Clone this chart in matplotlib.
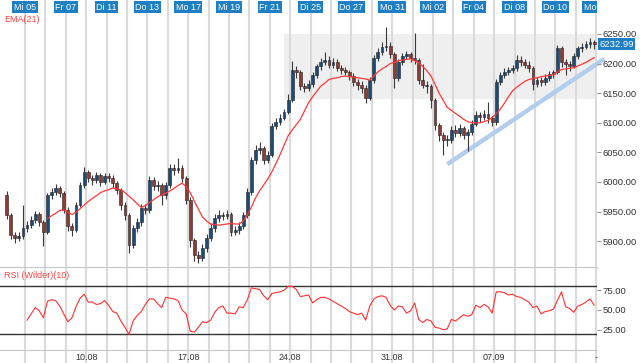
import numpy as np
import matplotlib
matplotlib.use("Agg")
import matplotlib.pyplot as plt
from matplotlib.patches import Rectangle

plt.rcParams['font.family'] = ['Liberation Sans', 'DejaVu Sans']

# 5 bars per trading day, first bar on Tue 04.08, last on Fri 11.09
per_day = 5
first_open = 5978

close = [5944, 5911, 5906, 5909, 5922, 5927, 5936, 5946, 5932, 5916,
         5978, 5983, 5990, 5981, 5953, 5926, 5919, 5961, 5995, 6017,
         6007, 6003, 6012, 6000, 6010, 6007, 5998, 5987, 5961, 5944,
         5894, 5922, 5932, 5956, 5953, 6003, 5993, 5995, 5978, 5995,
         6024, 6020, 6024, 6007, 5970, 5902, 5877, 5872, 5889, 5906,
         5922, 5939, 5944, 5943, 5946, 5916, 5919, 5926, 5944, 5983,
         6037, 6054, 6057, 6037, 6046, 6095, 6101, 6108, 6118, 6139,
         6189, 6186, 6162, 6159, 6166, 6181, 6196, 6203, 6206, 6198,
         6203, 6193, 6189, 6186, 6179, 6169, 6164, 6159, 6142, 6172,
         6209, 6220, 6228, 6230, 6216, 6176, 6203, 6213, 6216, 6209,
         6206, 6172, 6164, 6162, 6139, 6096, 6079, 6071, 6071, 6088,
         6083, 6091, 6079, 6084, 6098, 6113, 6110, 6115, 6108, 6101,
         6169, 6181, 6186, 6189, 6193, 6206, 6203, 6198, 6193, 6166,
         6172, 6169, 6176, 6182, 6186, 6226, 6203, 6199, 6196, 6213,
         6226, 6228, 6233, 6236, 6233]

high = [5984, 5948, 5915, 5916, 5961, 5934, 5942, 5951, 5950, 5936,
        5982, 5990, 5996, 5994, 5985, 5957, 5930, 5966, 6000, 6025,
        6020, 6012, 6017, 6015, 6016, 6015, 6012, 6002, 5990, 5966,
        5948, 5928, 5940, 5962, 5962, 6010, 6008, 6002, 5999, 6000,
        6030, 6030, 6040, 6028, 6010, 5974, 5906, 5884, 5895, 5912,
        5930, 5946, 5952, 5950, 5953, 5950, 5926, 5932, 5950, 5990,
        6042, 6062, 6068, 6060, 6052, 6100, 6108, 6114, 6124, 6148,
        6205, 6196, 6190, 6168, 6172, 6186, 6200, 6210, 6220, 6212,
        6210, 6208, 6198, 6194, 6190, 6184, 6174, 6170, 6164, 6178,
        6214, 6226, 6236, 6262, 6236, 6220, 6208, 6218, 6222, 6220,
        6252, 6210, 6200, 6170, 6166, 6142, 6100, 6084, 6080, 6094,
        6096, 6098, 6095, 6090, 6104, 6120, 6118, 6122, 6135, 6112,
        6174, 6186, 6192, 6194, 6198, 6215, 6212, 6208, 6204, 6196,
        6178, 6178, 6182, 6188, 6190, 6232, 6230, 6208, 6204, 6218,
        6230, 6234, 6238, 6244, 6240]

low = [5938, 5903, 5897, 5900, 5904, 5915, 5922, 5930, 5926, 5892,
       5912, 5972, 5978, 5975, 5948, 5918, 5909, 5915, 5957, 5990,
       6000, 5995, 5998, 5993, 5996, 6000, 5990, 5980, 5952, 5935,
       5880, 5888, 5915, 5926, 5946, 5948, 5986, 5984, 5961, 5972,
       5990, 6012, 6015, 6000, 5962, 5890, 5866, 5864, 5866, 5882,
       5900, 5916, 5932, 5936, 5938, 5908, 5910, 5912, 5920, 5940,
       5978, 6030, 6048, 6030, 6032, 6042, 6090, 6096, 6104, 6114,
       6135, 6176, 6155, 6152, 6154, 6160, 6176, 6190, 6198, 6192,
       6192, 6188, 6182, 6180, 6172, 6162, 6156, 6150, 6133, 6138,
       6168, 6204, 6214, 6222, 6210, 6159, 6170, 6198, 6208, 6202,
       6200, 6165, 6158, 6150, 6125, 6088, 6070, 6045, 6060, 6066,
       6076, 6078, 6072, 6052, 6080, 6094, 6102, 6104, 6100, 6094,
       6097, 6164, 6176, 6180, 6184, 6188, 6196, 6192, 6186, 6155,
       6160, 6162, 6164, 6170, 6176, 6182, 6194, 6180, 6188, 6192,
       6208, 6220, 6224, 6226, 6224]

# EMA(21) as drawn, starting at bar 10
ema_start = 10
ema21 = [5938, 5943, 5947, 5952, 5953, 5949, 5945, 5949, 5955, 5961,
         5967, 5972, 5977, 5982, 5985, 5987, 5990, 5988, 5987, 5982,
         5976, 5970, 5963, 5957, 5960, 5965, 5970, 5975, 5978, 5981,
         5985, 5989, 5994, 5998, 5992, 5982, 5968, 5954, 5941, 5934,
         5929, 5928, 5927, 5928, 5929, 5930, 5929, 5929, 5934, 5944,
         5958, 5973, 5985, 5995, 6005, 6017, 6031, 6046, 6062, 6078,
         6088, 6097, 6106, 6120, 6134, 6144, 6153, 6162, 6167, 6173,
         6175, 6176, 6178, 6179, 6178, 6177, 6176, 6175, 6174, 6172,
         6179, 6186, 6191, 6195, 6200, 6202, 6205, 6206, 6207, 6208,
         6205, 6201, 6195, 6188, 6179, 6165, 6150, 6138, 6126, 6121,
         6116, 6111, 6106, 6102, 6100, 6100, 6100, 6102, 6104, 6109,
         6115, 6123, 6133, 6144, 6154, 6160, 6165, 6170, 6173, 6175,
         6176, 6178, 6179, 6180, 6181, 6186, 6190, 6191, 6192, 6193,
         6196, 6199, 6202, 6206, 6210]

# RSI (Wilder)(10) as drawn, starting at bar 5
rsi_start = 5
rsi10 = [37, 45, 53, 49, 40, 61, 63, 62, 55, 45,
         35, 40, 54, 65, 70, 60, 60, 57, 58, 62,
         56, 48, 46, 36, 28, 19, 36, 43, 48, 57,
         64, 64, 58, 53, 66, 65, 64, 62, 50, 45,
         23, 22, 28, 35, 34, 37, 47, 53, 55, 46,
         46, 45, 54, 53, 63, 78, 77, 76, 68, 63,
         71, 72, 73, 75, 80, 80, 76, 67, 68, 69,
         59, 63, 66, 66, 64, 61, 58, 55, 52, 48,
         46, 44, 46, 37, 55, 64, 67, 68, 66, 56,
         50, 55, 54, 46, 49, 59, 38, 34, 38, 36,
         28, 27, 25, 26, 38, 36, 40, 44, 42, 44,
         56, 53, 57, 54, 46, 73, 73, 72, 69, 70,
         67, 66, 63, 60, 53, 55, 45, 48, 49, 51,
         62, 73, 54, 52, 47, 55, 57, 60, 64, 56]

top_days = [0, 2, 4, 6, 8, 10, 12, 14, 16, 18, 20, 22, 24, 26, 28]
top_labels = ["Mi 05", "Fr 07", "Di 11", "Do 13", "Mo 17", "Mi 19", "Fr 21",
              "Di 25", "Do 27", "Mo 31", "Mi 02", "Fr 04", "Di 08", "Do 10", "Mo 14"]
week_days = [3, 8, 13, 18, 23, 28]
week_labels = ["10.08", "17.08", "24.08", "31.08", "07.09", "-"]
price_ticks = [5900, 5950, 6000, 6050, 6100, 6150, 6200, 6250]
rsi_ticks = [25, 50, 75]
rsi_bands = [20, 80]
zone_x0, zone_lo, zone_hi = 12.7, 6140, 6250
trend_x = [20.7, 28.4]
trend_y = [6030, 6208]
last_price = 6232.99

blue = '#1f7fc4'
up_col, down_col = '#1b4b77', '#8e3b33'

n = len(close)
t = -1 + (np.arange(n) + 0.5) / per_day
opens = np.array([first_open] + close[:-1])
close_a = np.array(close)

fig = plt.figure(figsize=(6.4, 3.63), dpi=100)
ax = fig.add_axes([0, 1 - 267 / 363, 597 / 640, 267 / 363])
rx = fig.add_axes([0, 1 - 350 / 363, 597 / 640, 81 / 363])

for a in (ax, rx):
    a.set_xlim(-1.225, 28.04)
    for s in ('top', 'left', 'right'):
        a.spines[s].set_visible(False)
    a.spines['bottom'].set_color('#c8c8c8')
    a.yaxis.tick_right()
    a.tick_params(axis='y', length=3, width=0.8, color='#999999',
                  labelsize=6.8, labelcolor='#333333', pad=1)

ax.set_ylim(5856.4, 6307.4)
rx.set_ylim(-0.8, 102)

# day grid
for d in range(0, 29):
    ax.axvline(d, color='#dadada', lw=1.5, zorder=0.5)
    rx.axvline(d, ymin=-0.17, ymax=1, color='#dadada', lw=1.5, zorder=0.5, clip_on=False)

ax.add_patch(Rectangle((zone_x0, zone_lo), 30, zone_hi - zone_lo,
                       fc='#efefef', ec='none', zorder=0))

ax.plot(trend_x, trend_y, color='#b3cdee', lw=3.2, solid_capstyle='butt',
        clip_on=False, zorder=1.5)

# candles
lo_b = np.minimum(opens, close_a)
h_b = np.maximum(np.abs(close_a - opens), 1.5)
cols = np.where(close_a >= opens, up_col, down_col)
ax.vlines(t, low, high, color='#3a3a3a', lw=0.8, zorder=2)
ax.bar(t, h_b, bottom=lo_b, width=0.14, color=cols, edgecolor='#222222',
       linewidth=0.4, zorder=2.5)

ax.plot(t[ema_start:], ema21, color='#ff3838', lw=0.9, zorder=3)

ax.set_yticks(price_ticks)
ax.set_yticklabels([f"{p:.2f}" for p in price_ticks])
ax.set_xticks([])

for d, lab in zip(top_days, top_labels):
    ax.text(d, 0.973, lab, transform=ax.get_xaxis_transform(), ha='center',
            va='center', color='white', fontsize=6.5, zorder=5, clip_on=True,
            bbox=dict(boxstyle='square,pad=0.18', fc=blue, ec='none'))

ax.text(1.004, last_price, f"{last_price:.2f}", transform=ax.get_yaxis_transform(),
        ha='left', va='center', color='white', fontsize=6.8, clip_on=False,
        bbox=dict(boxstyle='square,pad=0.15', fc=blue, ec='none'))

fig.text(4 / 640, 1 - 20 / 363, "EMA(21)", color='#ff4444', fontsize=6.5, va='center')

# RSI panel
rx.plot(t[rsi_start:], rsi10, color='#ff3030', lw=0.8, zorder=3)
for b in rsi_bands:
    rx.axhline(b, color='#333333', lw=1, zorder=2)
rx.set_yticks(rsi_ticks)
rx.set_yticklabels([f"{v:.2f}" for v in rsi_ticks])
rx.set_xticks(week_days)
rx.set_xticklabels(week_labels)
rx.tick_params(axis='x', length=0, pad=2.5, labelsize=6.5, labelcolor='#333333')

fig.text(4 / 640, 1 - 276 / 363, "RSI (Wilder)(10)", color='#ff4444', fontsize=6.5, va='center')

fig.savefig("out.png", dpi=100, facecolor='white')
